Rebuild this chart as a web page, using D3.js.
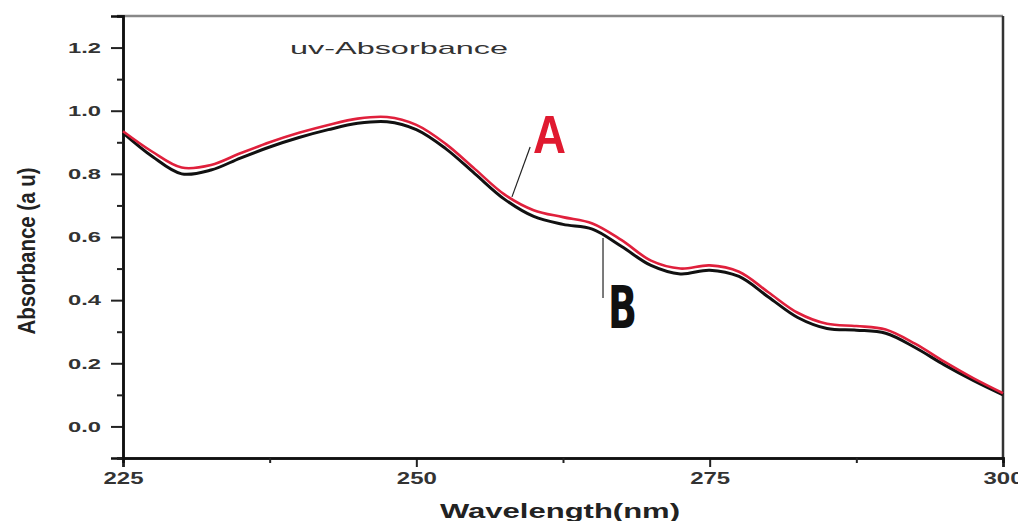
<!DOCTYPE html>
<html><head><meta charset="utf-8">
<script src="https://cdn.jsdelivr.net/npm/d3@7"></script>
<style>body{margin:0;background:#fff}svg{display:block}</style>
</head><body>
<svg id="c" width="1018" height="521"></svg>
<script>
const wavelengths = [225,227.5,230,232.5,235,237.5,240,242.5,245,247.5,250,252.5,255,257.5,260,262.5,265,267.5,270,272.5,275,277.5,280,282.5,285,287.5,290,292.5,295,297.5,300];
const seriesB = [0.93,0.855,0.80,0.812,0.85,0.885,0.915,0.94,0.96,0.965,0.94,0.88,0.80,0.72,0.665,0.64,0.625,0.57,0.51,0.483,0.495,0.475,0.41,0.345,0.31,0.305,0.295,0.25,0.195,0.145,0.10];
const seriesA = [0.935,0.87,0.82,0.828,0.865,0.90,0.93,0.955,0.975,0.98,0.955,0.895,0.815,0.735,0.685,0.663,0.643,0.59,0.525,0.50,0.51,0.49,0.425,0.36,0.325,0.318,0.307,0.262,0.205,0.152,0.105];
const xTicks = [225,250,275,300];
const xMinorTicks = [237.5,262.5,287.5];
const yTicks = [0.0,0.2,0.4,0.6,0.8,1.0,1.2];
const yMinorTicks = [-0.1,0.1,0.3,0.5,0.7,0.9,1.1];

const svg = d3.select("#c");
const L=123,R=1003,T=16,B=458;
const x = d3.scaleLinear().domain([225,300]).range([L,R]);
const y = d3.scaleLinear().domain([-0.1,1.3]).range([B,T]);
const font = "Liberation Sans, Arial, sans-serif";

// frame top/right
svg.append("line").attr("x1",L-6).attr("x2",R).attr("y1",T).attr("y2",T).attr("stroke","#888").attr("stroke-width",2.5);
svg.append("line").attr("x1",R).attr("x2",R).attr("y1",T).attr("y2",B).attr("stroke","#333").attr("stroke-width",2.5);

// axes
const yAxis = svg.append("g").attr("transform",`translate(${L},0)`)
  .call(d3.axisLeft(y).tickValues(yTicks).tickFormat(d3.format(".1f")).tickSize(12).tickPadding(10));
const yMinor = svg.append("g").attr("transform",`translate(${L},0)`)
  .call(d3.axisLeft(y).tickValues(yMinorTicks).tickFormat("").tickSize(6));
const xAxis = svg.append("g").attr("transform",`translate(0,${B})`)
  .call(d3.axisBottom(x).tickValues(xTicks).tickFormat(d3.format("d")).tickSize(9).tickPadding(5));
const xMinor = svg.append("g").attr("transform",`translate(0,${B})`)
  .call(d3.axisBottom(x).tickValues(xMinorTicks).tickFormat("").tickSize(5));
[yAxis,yMinor,xAxis,xMinor].forEach(g=>{
  g.select(".domain").attr("stroke","#111").attr("stroke-width",2.5);
  g.selectAll(".tick line").attr("stroke","#222").attr("stroke-width",2);
  g.selectAll("text").attr("font-family",font).attr("font-weight","bold").attr("fill","#333").attr("lengthAdjust","spacingAndGlyphs");
});
yAxis.selectAll("text").attr("font-size",15).attr("textLength",33);
xAxis.selectAll("text").attr("font-size",16.5).attr("textLength",40);

// curves
const line = d3.line().x((d,i)=>x(wavelengths[i])).y(d=>y(d)).curve(d3.curveCatmullRom.alpha(0.5));
svg.append("path").datum(seriesB).attr("d",line).attr("fill","none").attr("stroke","#111").attr("stroke-width",3);
svg.append("path").datum(seriesA).attr("d",line).attr("fill","none").attr("stroke","#e0203c").attr("stroke-width",2.6);

// annotations
svg.append("line").attr("x1",x(258.15)).attr("y1",y(0.727)).attr("x2",x(259.7)).attr("y2",y(0.885)).attr("stroke","#222").attr("stroke-width",1.2);
svg.append("text").attr("x",x(259.94)).attr("y",y(0.866)).attr("font-family",font).attr("font-weight","bold").attr("font-size",53).attr("fill","#e01a30").text("A")
  .attr("textLength",33).attr("lengthAdjust","spacingAndGlyphs");
svg.append("line").attr("x1",x(265.91)).attr("y1",y(0.597)).attr("x2",x(265.91)).attr("y2",y(0.407)).attr("stroke","#222").attr("stroke-width",1.2);
svg.append("text").attr("x",x(266.34)).attr("y",y(0.312)).attr("font-family","DejaVu Sans, sans-serif").attr("font-weight","bold").attr("font-size",58).attr("fill","#111").text("B")
  .attr("textLength",29).attr("lengthAdjust","spacingAndGlyphs");

// labels
svg.append("text").attr("x",290).attr("y",54).attr("font-family",font).attr("font-size",17).attr("fill","#333").text("uv-Absorbance")
  .attr("textLength",218).attr("lengthAdjust","spacingAndGlyphs");
svg.append("text").attr("transform","translate(35,251) rotate(-90)").attr("text-anchor","middle").attr("font-family",font).attr("font-weight","bold").attr("font-size",24).attr("fill","#222").text("Absorbance (a u)")
  .attr("textLength",167).attr("lengthAdjust","spacingAndGlyphs");
svg.append("text").attr("x",560).attr("y",518).attr("text-anchor","middle").attr("font-family",font).attr("font-weight","bold").attr("font-size",21).attr("fill","#222").text("Wavelength(nm)")
  .attr("textLength",240).attr("lengthAdjust","spacingAndGlyphs");
</script>
</body></html>
